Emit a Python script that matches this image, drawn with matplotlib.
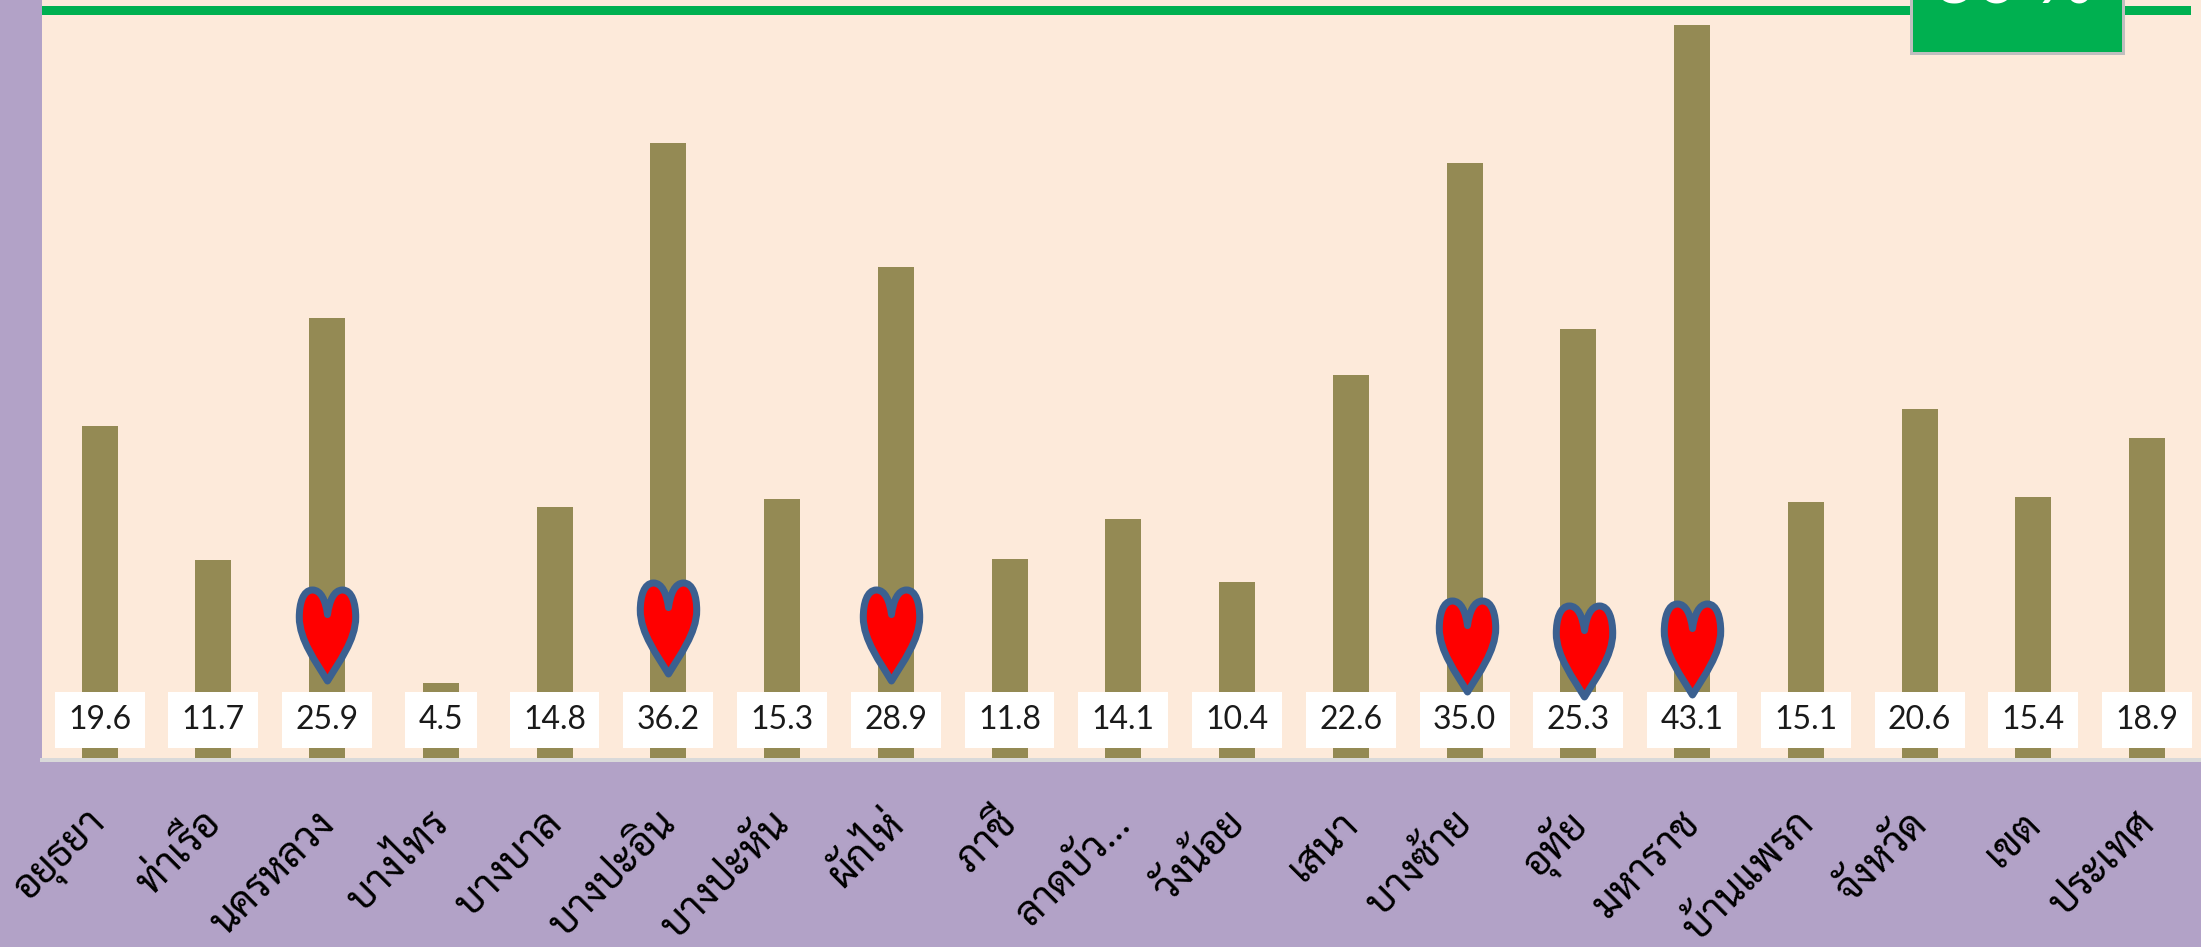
import matplotlib
matplotlib.use("Agg")
import matplotlib.pyplot as plt
from matplotlib.path import Path
from matplotlib.patches import Rectangle
from matplotlib.transforms import ScaledTranslation

W, H = 2201, 947
PX = 72 / 100  # points per pixel at dpi 100

names = ["อยุธยา", "ท่าเรือ", "นครหลวง", "บางไทร", "บางบาล", "บางปะอิน", "บางปะหัน",
         "ผักไห่", "ภาชี", "ลาดบัว...", "วังน้อย", "เสนา", "บางซ้าย", "อุทัย",
         "มหาราช", "บ้านแพรก", "จังหวัด", "เขต", "ประเทศ"]
values = [19.6, 11.7, 25.9, 4.5, 14.8, 36.2, 15.3, 28.9, 11.8, 14.1,
          10.4, 22.6, 35.0, 25.3, 43.1, 15.1, 20.6, 15.4, 18.9]
target = 44.0
target_label = "30 %"

# hearts sit roughly on these bars
heart_x = [2.0, 5.0, 6.96, 12.02, 13.05, 14.0]
heart_y = [7.33, 7.7, 7.33, 6.68, 6.38, 6.48]

purple = "#B2A2C7"
peach = "#FDEADA"
olive = "#948A54"
green = "#00B050"

# heart outline for the markers
heart = Path(
    [(0, 0.23), (-0.02, 0.38), (-0.07, 0.5), (-0.165, 0.5),
     (-0.27, 0.5), (-0.31, 0.35), (-0.31, 0.2),
     (-0.31, -0.05), (-0.12, -0.3), (0, -0.5),
     (0.12, -0.3), (0.31, -0.05), (0.31, 0.2),
     (0.31, 0.35), (0.27, 0.5), (0.165, 0.5),
     (0.07, 0.5), (0.02, 0.38), (0, 0.23), (0, 0.23)],
    [Path.MOVETO] + [Path.CURVE4] * 18 + [Path.CLOSEPOLY],
)

fig = plt.figure(figsize=(W / 100, H / 100), dpi=100, facecolor=purple)
ax = fig.add_axes([42 / W, (H - 759.7) / H, (W - 42) / W, 759.7 / H], facecolor=peach)

x = list(range(len(names)))
ax.bar(x, values, width=0.316, color=olive, zorder=2)
ax.axhline(target, xmax=0.993, color=green, lw=9 * PX, zorder=3)

for xi, v in zip(x, values):
    ax.text(xi, 2.33, "%.1f" % v, ha="center", va="center", fontsize=23,
            family=["Lato", "DejaVu Sans"], color="#1a1a1a", zorder=4,
            bbox=dict(boxstyle="square,pad=0.42", fc="white", ec="none"))

ax.scatter(heart_x, heart_y, marker=heart, s=(91 * PX) ** 2, facecolor="#FF0000",
           edgecolor="#3B6090", linewidths=7 * PX, zorder=5, clip_on=False)

ax.set_xlim(-0.506, 18.474)
ax.set_ylim(0, 44.58)
ax.set_yticks([])
ax.set_xticks(x)
ax.set_xticklabels(names, rotation=45, ha="right", va="center", rotation_mode="anchor",
                   fontsize=29, family=["Sarabun", "Noto Sans Thai", "DejaVu Sans"],
                   color="black")
ax.tick_params(axis="x", length=0, pad=42)
shift = ScaledTranslation(2 / 100, 0, fig.dpi_scale_trans)
for lab in ax.get_xticklabels():
    lab.set_transform(lab.get_transform() + shift)
for s in ["top", "left", "right"]:
    ax.spines[s].set_visible(False)
ax.spines["bottom"].set_color("#D9D9D9")
ax.spines["bottom"].set_linewidth(4 * PX)

# green badge in the corner, mostly cut off by the top edge
fig.add_artist(Rectangle((1911 / W, (H - 53) / H), 212 / W, 60 / H, transform=fig.transFigure,
                         fc=green, ec="#BFBFBF", lw=3 * PX, zorder=6))
fig.text(2014 / W, (H - 3) / H, target_label, ha="center", va="baseline", fontsize=52,
         family="Lato", color="white", zorder=7)

fig.savefig("out.png", dpi=100, facecolor=purple)
